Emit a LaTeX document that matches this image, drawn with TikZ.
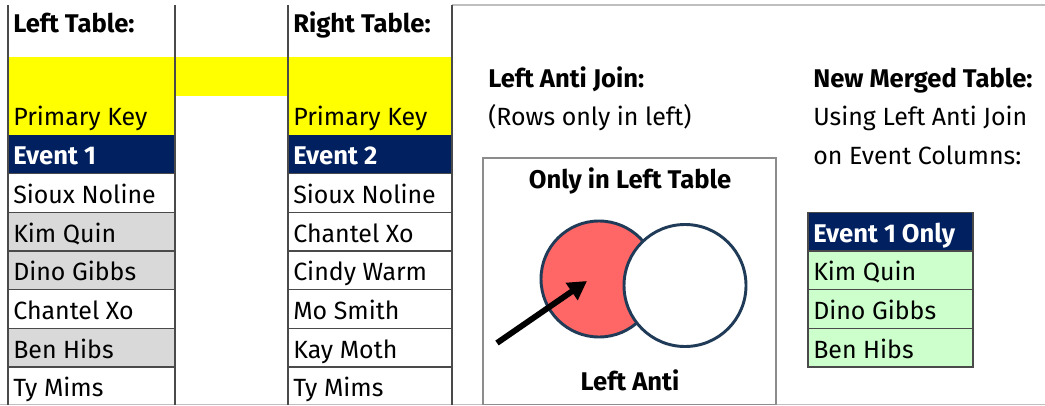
\documentclass[tikz,border=0pt]{standalone}
\usepackage{fontspec}
\setmainfont{Fira Sans}
\usepackage{tikz}
\usetikzlibrary{arrows.meta}
\definecolor{xlyellow}{HTML}{FFFF00}
\definecolor{xlnavy}{HTML}{002060}
\definecolor{xlgray}{HTML}{D9D9D9}
\definecolor{xlgreen}{HTML}{CCFFCC}
\definecolor{gridline}{HTML}{4A4A4A}
\definecolor{pageline}{HTML}{BFBFBF}
\definecolor{venntred}{HTML}{FF6666}
\definecolor{vennline}{HTML}{1F3B57}
\newcommand\cellfont{\fontsize{18.7}{21}\selectfont}
\newcommand\boldfont{\fontsize{19.2}{21}\selectfont\bfseries}
\tikzset{
	gridrule/.style={line width=1.1pt, color=gridline},
	pagerule/.style={line width=1pt, color=pageline},
	celltext/.style={anchor=base west, inner sep=0pt, font=\cellfont},
	boldtext/.style={celltext, font=\boldfont},
	headtext/.style={boldtext, text=white},
	vennbox/.style={line width=1.1pt, color=black!45},
	vennring/.style={line width=2.2pt, draw=vennline},
	pointer/.style={line width=4.4pt, -{Triangle[length=14pt,width=15pt]}},
}

\begin{document}
\begin{tikzpicture}[x=0.75pt, y=-0.75pt]
			%%%%% START %%%%%
			\useasboundingbox (0,0) rectangle (1045,406);
			
			% coloured cells
			\fill[xlyellow] (8,57.5) rectangle (452,96.5);
			\fill[xlyellow] (8,96.5) rectangle (175,135);
			\fill[xlyellow] (288,96.5) rectangle (452,135);
			\fill[xlnavy] (8,135) rectangle (175,173.5);
			\fill[xlnavy] (288,135) rectangle (452,173.5);
			\fill[xlgray] (8,212.5) rectangle (175,251);
			\fill[xlgray] (8,251) rectangle (175,289.5);
			\fill[xlgray] (8,328.5) rectangle (175,367);
			
			% sheet edges
			\draw[pagerule] (452,5) -- (1045,5);
			\draw[pagerule] (0,404.5) -- (1045,404.5);
			
			% column rules
			\draw[gridrule] (8,5) -- (8,404.5);
			\draw[gridrule] (175,5) -- (175,404.5);
			\draw[gridrule] (288,5) -- (288,404.5);
			\draw[gridrule] (452,5) -- (452,404.5);
			
			% row rules, left table
			\draw[gridrule] (8,173.5) -- (175,173.5);
			\draw[gridrule] (8,212.5) -- (175,212.5);
			\draw[gridrule] (8,251) -- (175,251);
			\draw[gridrule] (8,289.5) -- (175,289.5);
			\draw[gridrule] (8,328.5) -- (175,328.5);
			\draw[gridrule] (8,367) -- (175,367);
			
			% row rules, right table
			\draw[gridrule] (288,173.5) -- (452,173.5);
			\draw[gridrule] (288,212.5) -- (452,212.5);
			\draw[gridrule] (288,251) -- (452,251);
			\draw[gridrule] (288,289.5) -- (452,289.5);
			\draw[gridrule] (288,328.5) -- (452,328.5);
			\draw[gridrule] (288,367) -- (452,367);
			
			% left table
			\node[boldtext] (lefttitle) at (13,33) {Left Table:};
			\node[celltext] (leftkey) at (13,126) {Primary Key};
			\node[headtext] (lefthead) at (13,164.5) {Event 1};
			\node[celltext] (left1) at (13,203.5) {Sioux Noline};
			\node[celltext] (left2) at (13,242) {Kim Quin};
			\node[celltext] (left3) at (13,280.5) {Dino Gibbs};
			\node[celltext] (left4) at (13,319.5) {Chantel Xo};
			\node[celltext] (left5) at (13,358) {Ben Hibs};
			\node[celltext] (left6) at (13,396) {Ty Mims};
			
			% right table
			\node[boldtext] (righttitle) at (293,33) {Right Table:};
			\node[celltext] (rightkey) at (293,126) {Primary Key};
			\node[headtext] (righthead) at (293,164.5) {Event 2};
			\node[celltext] (right1) at (293,203.5) {Sioux Noline};
			\node[celltext] (right2) at (293,242) {Chantel Xo};
			\node[celltext] (right3) at (293,280.5) {Cindy Warm};
			\node[celltext] (right4) at (293,319.5) {Mo Smith};
			\node[celltext] (right5) at (293,358) {Kay Moth};
			\node[celltext] (right6) at (293,396) {Ty Mims};
			
			% join notes
			\node[boldtext] (jointitle) at (488,87.5) {Left Anti Join:};
			\node[celltext] (joinnote) at (488,126) {(Rows only in left)};
			\node[boldtext] (mergetitle) at (813,87.5) {New Merged Table:};
			\node[celltext] (mergenote1) at (813,126) {Using Left Anti Join};
			\node[celltext] (mergenote2) at (813,164.5) {on Event Columns:};
			
			% venn picture
			\draw[vennbox, fill=white] (483,158) rectangle (776,404.5);
			\node[boldtext, anchor=base] (venntitle) at (630,188) {Only in Left Table};
			\draw[vennring, fill=venntred] (599,279) circle (58);
			\draw[vennring, fill=white] (685,285.5) circle (61);
			\coordinate (arrtail) at (497,343);
			\coordinate (arrtip) at (587,281);
			\draw[pointer] (arrtail) -- (arrtip);
			\node[boldtext, anchor=base] (vennlabel) at (630,390) {Left Anti};
			
			% merged table
			\fill[xlnavy] (808,212.5) rectangle (973,251);
			\fill[xlgreen] (808,251) rectangle (973,367);
			\draw[gridrule] (808,212.5) rectangle (973,367);
			\draw[gridrule] (808,251) -- (973,251);
			\draw[gridrule] (808,289.5) -- (973,289.5);
			\draw[gridrule] (808,328.5) -- (973,328.5);
			\node[headtext] (mergehead) at (813,242) {Event 1 Only};
			\node[celltext] (merge1) at (813,280.5) {Kim Quin};
			\node[celltext] (merge2) at (813,319.5) {Dino Gibbs};
			\node[celltext] (merge3) at (813,358) {Ben Hibs};
			
			%%%%% END %%%%%
\end{tikzpicture}
\end{document}
